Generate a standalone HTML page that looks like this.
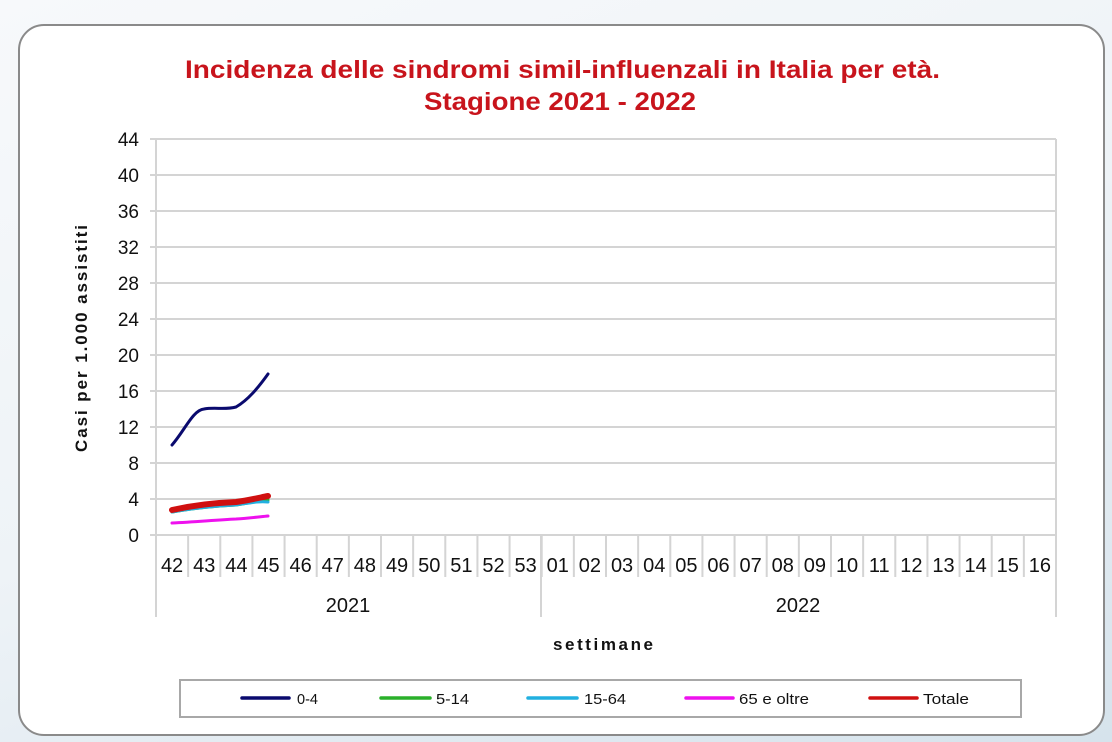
<!DOCTYPE html>
<html><head><meta charset="utf-8"><style>
html,body{margin:0;padding:0;}
body{width:1112px;height:742px;overflow:hidden;background:linear-gradient(160deg,#f7f9fb 0%,#eef3f7 50%,#d6e3ec 100%);font-family:"Liberation Sans",sans-serif;position:relative;}
.card{position:absolute;left:18px;top:24px;width:1087px;height:712px;background:#fff;border:2px solid #8a8a8a;border-radius:26px;box-sizing:border-box;}
</style></head><body>
<div class="card"></div>
<svg width="1112" height="742" style="position:absolute;left:0;top:0" font-family="Liberation Sans, sans-serif">
<text x="185" y="78" font-size="25" font-weight="bold" fill="#c8141c" textLength="755" lengthAdjust="spacingAndGlyphs">Incidenza delle sindromi simil-influenzali in Italia per età.</text>
<text x="424" y="110" font-size="25" font-weight="bold" fill="#c8141c" textLength="272" lengthAdjust="spacingAndGlyphs">Stagione 2021 - 2022</text>
<g stroke="#d4d4d4" stroke-width="2">
<line x1="150" x2="1056" y1="139" y2="139"/><line x1="150" x2="1056" y1="175" y2="175"/><line x1="150" x2="1056" y1="211" y2="211"/><line x1="150" x2="1056" y1="247" y2="247"/><line x1="150" x2="1056" y1="283" y2="283"/><line x1="150" x2="1056" y1="319" y2="319"/><line x1="150" x2="1056" y1="355" y2="355"/><line x1="150" x2="1056" y1="391" y2="391"/><line x1="150" x2="1056" y1="427" y2="427"/><line x1="150" x2="1056" y1="463" y2="463"/><line x1="150" x2="1056" y1="499" y2="499"/>
<line x1="150" x2="1056" y1="535" y2="535"/>
<line x1="156" x2="156" y1="139" y2="617"/>
<line x1="1056" x2="1056" y1="139" y2="617"/>
<line x1="541" x2="541" y1="535" y2="617"/>
</g>
<g stroke="#d4d4d4" stroke-width="2" id="sep"></g>
<g font-size="19" fill="#111" text-anchor="end">
<text x="139" y="146">44</text><text x="139" y="182">40</text><text x="139" y="218">36</text><text x="139" y="254">32</text><text x="139" y="290">28</text><text x="139" y="326">24</text><text x="139" y="362">20</text><text x="139" y="398">16</text><text x="139" y="434">12</text><text x="139" y="470">8</text><text x="139" y="506">4</text><text x="139" y="542">0</text>
</g>
<g id="cats" font-size="20" fill="#111" text-anchor="middle"></g>
<text x="348" y="612" text-anchor="middle" font-size="20" fill="#111">2021</text>
<text x="798" y="612" text-anchor="middle" font-size="20" fill="#111">2022</text>
<text x="553" y="650" font-size="17" font-weight="bold" fill="#111" textLength="100">settimane</text>
<text transform="translate(87,452) rotate(-90)" font-size="17" font-weight="bold" fill="#111" textLength="227">Casi per 1.000 assistiti</text>
<g fill="none" stroke-linecap="round">
<path d="M172,445 C185,430 193,410 204,409 C215,407 225,410 236,407 C248,400 258,388 268,374" stroke="#0a0a6e" stroke-width="3"/>
<path d="M172,512 C195,508 215,506 236,505 C250,503 258,501 268,500" stroke="#2ab02a" stroke-width="3"/>
<path d="M172,512 C195,508 215,506 236,505 C250,503 258,501 268,502" stroke="#22b0e0" stroke-width="3"/>
<path d="M172,523 C195,522 215,520 236,519 C250,518 258,517 268,516" stroke="#ee11ee" stroke-width="3"/>
<path d="M172,510 C190,506 210,503 236,502 C250,500 258,498 268,496" stroke="#d01010" stroke-width="6"/>
</g>
<rect x="180" y="680" width="841" height="37" fill="#fff" stroke="#a8a8a8" stroke-width="2"/>
<g stroke-width="3.5" stroke-linecap="round">
<line x1="242" x2="289" y1="698" y2="698" stroke="#0a0a6e"/>
<line x1="381" x2="430" y1="698" y2="698" stroke="#2ab02a"/>
<line x1="528" x2="577" y1="698" y2="698" stroke="#22b0e0"/>
<line x1="686" x2="733" y1="698" y2="698" stroke="#ee11ee"/>
<line x1="870" x2="917" y1="698" y2="698" stroke="#d01010"/>
</g>
<g font-size="15" fill="#111">
<text x="297" y="704" textLength="21" lengthAdjust="spacingAndGlyphs">0-4</text>
<text x="436" y="704" textLength="33" lengthAdjust="spacingAndGlyphs">5-14</text>
<text x="584" y="704" textLength="42" lengthAdjust="spacingAndGlyphs">15-64</text>
<text x="739" y="704" textLength="70" lengthAdjust="spacingAndGlyphs">65 e oltre</text>
<text x="923" y="704" textLength="46" lengthAdjust="spacingAndGlyphs">Totale</text>
</g>
</svg>
<script>
var labs=["42","43","44","45","46","47","48","49","50","51","52","53","01","02","03","04","05","06","07","08","09","10","11","12","13","14","15","16"];
var ns="http://www.w3.org/2000/svg",w=900/28,c=document.getElementById("cats"),s=document.getElementById("sep");
labs.forEach(function(l,i){var t=document.createElementNS(ns,"text");t.setAttribute("x",156+w*(i+0.5));t.setAttribute("y",572);t.textContent=l;c.appendChild(t);
if(i>0){var ln=document.createElementNS(ns,"line");var x=156+w*i;ln.setAttribute("x1",x);ln.setAttribute("x2",x);ln.setAttribute("y1",535);ln.setAttribute("y2",577);s.appendChild(ln);}});
</script>
</body></html>
